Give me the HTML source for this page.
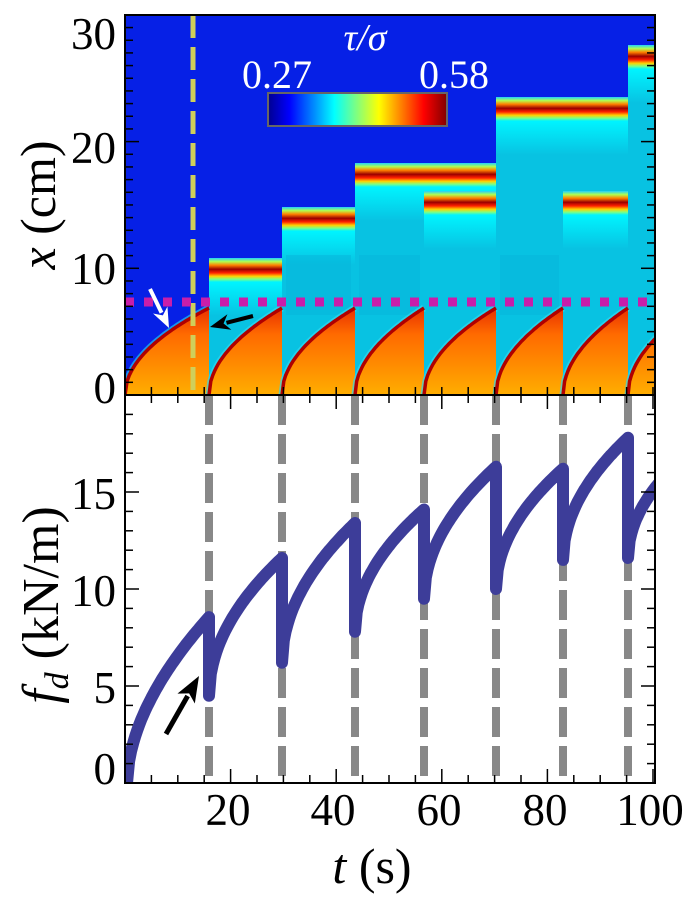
<!DOCTYPE html>
<html><head><meta charset="utf-8"><style>
html,body{margin:0;padding:0;background:#fff;}
svg{display:block;}
text{font-family:"Liberation Serif","DejaVu Serif",serif;}
</style></head><body>
<svg id="s" width="696" height="905" viewBox="0 0 696 905" xmlns="http://www.w3.org/2000/svg" font-family="Liberation Serif, DejaVu Serif, serif">
<defs>
<linearGradient id="band" x1="0" y1="0" x2="0" y2="1">
<stop offset="0" stop-color="#20d0ff"/><stop offset="0.15" stop-color="#b0ff50"/>
<stop offset="0.3" stop-color="#ff8000"/><stop offset="0.47" stop-color="#9a0000"/>
<stop offset="0.62" stop-color="#ff2000"/><stop offset="0.76" stop-color="#ffd000"/>
<stop offset="0.88" stop-color="#80ff80"/><stop offset="1" stop-color="#00f4ff"/>
</linearGradient>
<linearGradient id="fade" x1="0" y1="0" x2="0" y2="1">
<stop offset="0" stop-color="#00f4ff"/><stop offset="1" stop-color="#08c2e2"/>
</linearGradient>
<linearGradient id="org" x1="0" y1="0" x2="0" y2="1">
<stop offset="0" stop-color="#e83000"/><stop offset="0.3" stop-color="#ff6a00"/>
<stop offset="0.7" stop-color="#ff9000"/><stop offset="1" stop-color="#ffae00"/>
</linearGradient>
<linearGradient id="jet" x1="0" y1="0" x2="1" y2="0">
<stop offset="0" stop-color="#00008f"/><stop offset="0.12" stop-color="#0000ff"/>
<stop offset="0.37" stop-color="#00ffff"/><stop offset="0.62" stop-color="#ffff00"/>
<stop offset="0.87" stop-color="#ff0000"/><stop offset="1" stop-color="#800000"/>
</linearGradient>
<clipPath id="ct"><rect x="125" y="15" width="530" height="380"/></clipPath>
<clipPath id="cb"><rect x="125" y="395" width="530" height="388"/></clipPath>
</defs>
<g id="gtop" clip-path="url(#ct)"></g>
<g id="gbot" clip-path="url(#cb)"></g>
<g id="gax"></g>
</svg>
<script>
(function(){
var NS="http://www.w3.org/2000/svg";
var FF="Liberation Serif, DejaVu Serif, serif";
function el(p,t,a,txt){var e=document.createElementNS(NS,t);for(var k in a)e.setAttribute(k,a[k]);if(t=='text')e.setAttribute('font-family',FF);if(txt!==undefined)e.textContent=txt;p.appendChild(e);return e;}
var gTop=document.getElementById('gtop'),gBot=document.getElementById('gbot'),gAx=document.getElementById('gax');
el(gTop,'rect',{x:125,y:15,width:530,height:380,fill:'#0620e6'});
function band(x0,x1,c,full){
  if(full) el(gTop,'rect',{x:x0,y:c,width:x1-x0,height:395-c,fill:'#08c2e2'});
  el(gTop,'rect',{x:x0,y:c-12,width:x1-x0,height:24,fill:'url(#band)'});
  el(gTop,'rect',{x:x0,y:c+12,width:x1-x0,height:34,fill:'url(#fade)'});
}
band(209,282,270,1);band(282,355,219,1);band(355,496,175,1);band(424,496,203,0);
band(496,628,109,1);band(563,628,203,0);band(628,656,57,1);
[[282,355],[355,424],[496,563]].forEach(function(s){el(gTop,'rect',{x:s[0]+4,y:255,width:s[1]-s[0]-8,height:60,fill:'#06b4da',opacity:0.5});});
var segs=[[125,209],[209,282],[282,355],[355,424],[424,496],[496,563],[563,628],[628,693]];
segs.forEach(function(s,i){
  var pts=[];
  for(var k=0;k<=40;k++){var u=k/40;var x=s[0]+u*(s[1]-s[0]);var y=395-87*Math.sqrt(u);pts.push(x.toFixed(1)+','+y.toFixed(1));}
  var line='M'+pts.join(' L');
  el(gTop,'path',{d:line,fill:'none',stroke:i==0?'#20c8f0':'#30d8f0',"stroke-width":7,opacity:0.7});
  el(gTop,'path',{d:line+' L'+s[1]+',395 Z',fill:'url(#org)'});
  el(gTop,'path',{d:line,fill:'none',stroke:'#b00000',"stroke-width":3.5});
});
el(gTop,'line',{x1:193,y1:15,x2:193,y2:392,stroke:'#cfcf5a',"stroke-width":5,"stroke-dasharray":"23 9"});
el(gTop,'line',{x1:125,y1:302,x2:655,y2:302,stroke:'#c81eaa',"stroke-width":9,"stroke-dasharray":"9 10"});
el(gAx,'rect',{x:268,y:93,width:179,height:33,fill:'url(#jet)',stroke:'#666',"stroke-width":2});
el(gAx,'text',{x:277,y:88,fill:'#fff',"font-size":40,"text-anchor":"middle"},'0.27');
el(gAx,'text',{x:454,y:88,fill:'#fff',"font-size":40,"text-anchor":"middle"},'0.58');
el(gAx,'text',{x:365,y:50,fill:'#fff',"font-size":38,"text-anchor":"middle","font-style":"italic"},'τ/σ');
function arrow(p,x1,y1,x2,y2,c,w,hl,hw){
  var dx=x2-x1,dy=y2-y1,L=Math.hypot(dx,dy),ux=dx/L,uy=dy/L;
  var bx=x2-ux*hl,by=y2-uy*hl;
  el(p,'line',{x1:x1,y1:y1,x2:bx+ux*3,y2:by+uy*3,stroke:c,"stroke-width":w});
  el(p,'polygon',{points:x2+','+y2+' '+(bx-uy*hw)+','+(by+ux*hw)+' '+(bx+ux*6)+','+(by+uy*6)+' '+(bx+uy*hw)+','+(by-ux*hw),fill:c});
}
arrow(gAx,150,289,169,328,'#fff',4,20,8);
arrow(gAx,253,316,210,327,'#000',4,20,8);
var Y=function(f){return 783-19.4*f;};
[209,282,355,424,496,563,628].forEach(function(x){el(gBot,'line',{x1:x,y1:395,x2:x,y2:783,stroke:'#888',"stroke-width":8,"stroke-dasharray":"30 9"});});
var fs=[[0,8.55],[4.5,11.6],[6.2,13.4],[7.8,14.1],[9.5,16.3],[10,16.2],[11.5,17.8],[11.6,17.2]];
var d='';
segs.forEach(function(s,i){
  var a=fs[i][0],b=fs[i][1];
  for(var k=0;k<=40;k++){var u=k/40;var x=s[0]+u*(s[1]-s[0]);if(i==0)x=127+u*(209-127);var f=a+(b-a)*Math.pow(u,i==0?0.55:0.5);
    d+=(d?' L':'M')+x.toFixed(1)+','+Y(f).toFixed(1);}
});
el(gBot,'path',{d:d,fill:'none',stroke:'#3d3d99',"stroke-width":12,"stroke-linejoin":"round"});
arrow(gAx,166,734,199,676,'#000',5,26,10);
el(gAx,'rect',{x:125,y:15,width:530,height:768,fill:'none',stroke:'#000',"stroke-width":2});
el(gAx,'line',{x1:125,y1:395,x2:655,y2:395,stroke:'#000',"stroke-width":2});
function tk(x1,y1,x2,y2){el(gAx,'line',{x1:x1,y1:y1,x2:x2,y2:y2,stroke:'#000',"stroke-width":1.5});}
var c,y,L,f,t,x;
for(c=0;c<=30;c++){y=395-12.67*c;L=c%10==0?14:8;tk(125,y,125+L,y);tk(655,y,655-L,y);}
for(f=0;f<=20;f++){y=783-19.4*f;L=f%5==0?14:8;tk(125,y,125+L,y);tk(655,y,655-L,y);}
for(t=0;t<=100;t+=5){x=125+5.28*t;L=t%20==0?14:8;tk(x,783,x,783-L);tk(x,395,x,395+L);tk(x,395,x,395-8);}
[[30,33],[20,147],[10,268],[0,387]].forEach(function(p){el(gAx,'text',{x:116,y:p[1]+16,"font-size":45,"text-anchor":"end"},String(p[0]));});
[[15,493],[10,590],[5,687],[0,768]].forEach(function(p){el(gAx,'text',{x:116,y:p[1]+16,"font-size":45,"text-anchor":"end"},String(p[0]));});
[[20,228],[40,333],[60,439],[80,545],[100,650]].forEach(function(p){el(gAx,'text',{x:p[1],y:825,"font-size":45,"text-anchor":"middle"},String(p[0]));});
var g=el(gAx,'text',{x:0,y:0,"font-size":50,"text-anchor":"middle",transform:"translate(55,205) rotate(-90)"});
el(g,'tspan',{"font-style":"italic"},'x');el(g,'tspan',{},' (cm)');
var g2=el(gAx,'text',{x:0,y:0,"font-size":52,"text-anchor":"middle",transform:"translate(58,605) rotate(-90)"});
el(g2,'tspan',{"font-style":"italic"},'f');el(g2,'tspan',{"font-style":"italic","font-size":34,dy:10},'d');el(g2,'tspan',{dy:-10},' (kN/m)');
var g3=el(gAx,'text',{x:372,y:883,"font-size":50,"text-anchor":"middle"});
el(g3,'tspan',{"font-style":"italic"},'t');el(g3,'tspan',{},' (s)');
})();
</script>
</body></html>
